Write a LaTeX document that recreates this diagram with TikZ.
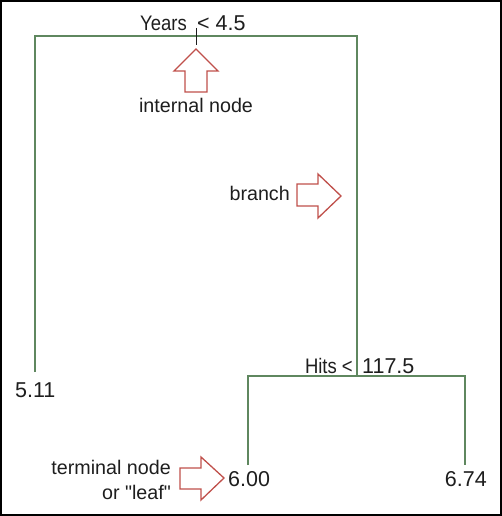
\documentclass[tikz,border=0pt]{standalone}
\usepackage{fontspec}
\setmainfont{Liberation Sans}[Ligatures=TeXOff]
\newfontfamily\narrowfont{Liberation Sans}[FakeStretch=0.88,Ligatures=TeXOff]
\definecolor{treegreen}{RGB}{95,135,95}
\definecolor{callred}{RGB}{192,80,75}
\definecolor{txt}{RGB}{30,30,30}
\begin{document}
\begin{tikzpicture}[x=1pt,y=-1pt,
  tree/.style={draw=treegreen,line width=1.4pt},
  callout/.style={draw=callred,line width=1.3pt,line join=miter,fill=white},
  lbl/.style={inner sep=0pt,text=txt,font=\fontsize{19.7}{24}\selectfont},
  nlbl/.style={inner sep=0pt,text=txt,font=\narrowfont\fontsize{21}{24}\selectfont},
  num/.style={inner sep=0pt,text=txt,font=\fontsize{21.5}{24}\selectfont}]
\useasboundingbox (0,0) rectangle (502,516);
\draw[black,line width=2pt] (1,1) rectangle (501,515);
% tree coordinates
\coordinate (rootL) at (35,36);
\coordinate (rootR) at (357,36);
\coordinate (leafA) at (35,372);
\coordinate (hitsL) at (248,376);
\coordinate (hitsR) at (465,376);
\coordinate (hitsM) at (357,376);
\coordinate (leafB) at (248,465);
\coordinate (leafC) at (465,465);
\coordinate (tickT) at (196,28);
\coordinate (tickB) at (196,45);
\draw[tree] (leafA) -- (rootL) -- (rootR) -- (hitsM);
\draw[tree] (leafB) -- (hitsL) -- (hitsR) -- (leafC);
\draw[txt,line width=1pt] (tickT) -- (tickB);
% labels
\node[nlbl,anchor=base east] (years) at (187,31) {Years};
\node[num,anchor=base west] (yearsv) at (197,31) {< 4.5};
\node[nlbl,anchor=base east] (hits) at (353,373) {Hits <};
\node[num,anchor=base west] (hitsv) at (362,373) {117.5};
\node[num,anchor=west] (v511) at (15,390) {5.11};
\node[num,anchor=west] (v600) at (228,479) {6.00};
\node[num,anchor=east] (v674) at (487,479) {6.74};
\node[lbl] (internal) at (196,105) {internal node};
\node[lbl,anchor=east] (branch) at (290,193) {branch};
\node[lbl,anchor=east] (term) at (171,467) {terminal node};
\node[lbl,anchor=east] (leafw) at (171,492) {or "leaf"};
% callout arrows
\draw[callout] (196,49) -- (218,71) -- (207,71) -- (207,92) -- (185,92) -- (185,71) -- (174,71) -- cycle;
\draw[callout] (341,196) -- (318,218) -- (318,206) -- (297,206) -- (297,184) -- (318,184) -- (318,174) -- cycle;
\draw[callout] (224,478) -- (201,500) -- (201,489) -- (180,489) -- (180,468) -- (201,468) -- (201,457) -- cycle;
\end{tikzpicture}
\end{document}
